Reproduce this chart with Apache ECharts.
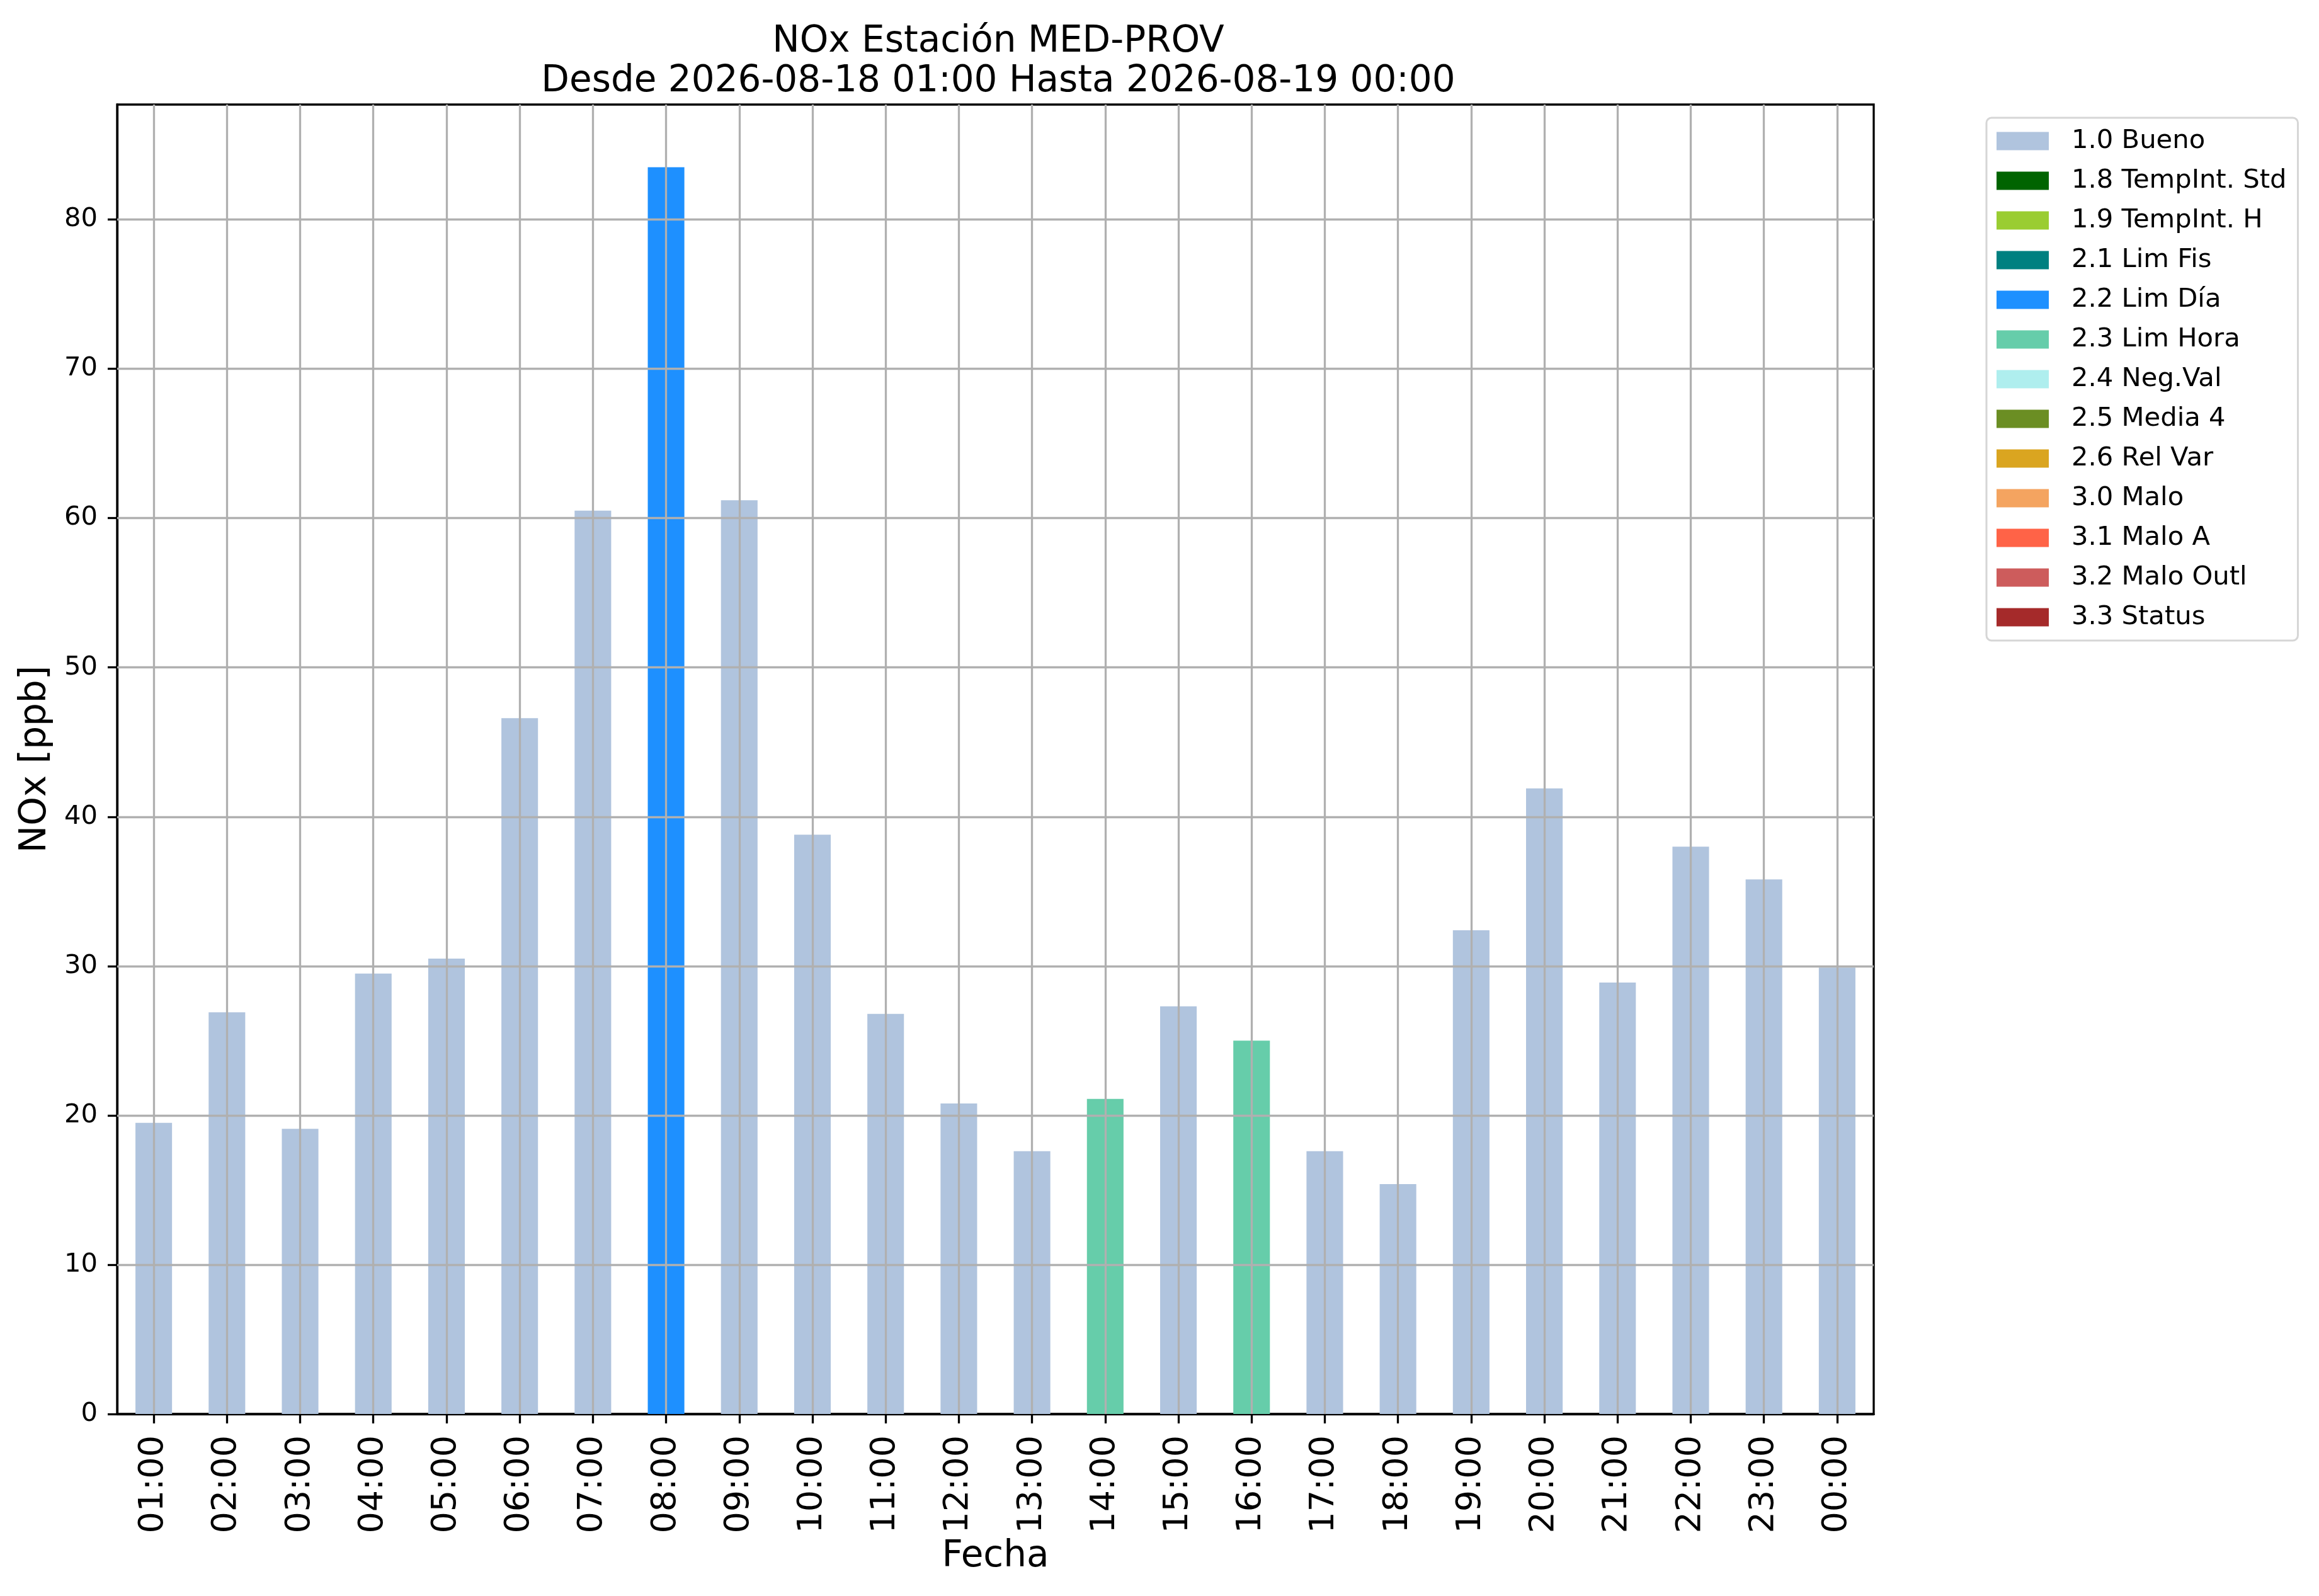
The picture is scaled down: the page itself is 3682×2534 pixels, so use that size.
<!DOCTYPE html>
<html>
<head>
<meta charset="utf-8">
<script src="https://cdn.jsdelivr.net/npm/echarts@6/dist/echarts.min.js"></script>
<style>
  html, body { margin: 0; padding: 0; background: #ffffff; }
  #chart { width: 3682px; height: 2534px; }
</style>
</head>
<body>
<div id="chart"></div>
<script>
// ---- data ----
const hours = ['01:00','02:00','03:00','04:00','05:00','06:00','07:00','08:00','09:00','10:00','11:00','12:00',
               '13:00','14:00','15:00','16:00','17:00','18:00','19:00','20:00','21:00','22:00','23:00','00:00'];
const noxValues = [19.5, 26.9, 19.1, 29.5, 30.5, 46.6, 60.5, 83.5, 61.2, 38.8, 26.8, 20.8,
                   17.6, 21.1, 27.3, 25.0, 17.6, 15.4, 32.4, 41.9, 28.9, 38.0, 35.8, 29.9];
const flagOfHour = ['1.0 Bueno','1.0 Bueno','1.0 Bueno','1.0 Bueno','1.0 Bueno','1.0 Bueno','1.0 Bueno','2.2 Lim Día',
                    '1.0 Bueno','1.0 Bueno','1.0 Bueno','1.0 Bueno','1.0 Bueno','2.3 Lim Hora','1.0 Bueno','2.3 Lim Hora',
                    '1.0 Bueno','1.0 Bueno','1.0 Bueno','1.0 Bueno','1.0 Bueno','1.0 Bueno','1.0 Bueno','1.0 Bueno'];
const flagNames = ['1.0 Bueno','1.8 TempInt. Std','1.9 TempInt. H','2.1 Lim Fis','2.2 Lim Día','2.3 Lim Hora',
                   '2.4 Neg.Val','2.5 Media 4','2.6 Rel Var','3.0 Malo','3.1 Malo A','3.2 Malo Outl','3.3 Status'];
const flagColors = ['#B0C4DE','#006400','#9ACD32','#008080','#1E90FF','#66CDAA',
                    '#AFEEEE','#6B8E23','#DAA520','#F4A460','#FF6347','#CD5C5C','#A52A2A'];
const yTicks = [0, 10, 20, 30, 40, 50, 60, 70, 80];
const yMax = 87.7;
const titleText = 'NOx Estación MED-PROV\nDesde 2026-08-18 01:00 Hasta 2026-08-19 00:00';

// ---- chart ----
const FONT = 'DejaVu Sans';
const chart = echarts.init(document.getElementById('chart'), null, { renderer: 'canvas' });

const barSeries = flagNames.map((name, k) => ({
  name: name,
  type: 'bar',
  stack: 'all',
  barWidth: '50%',
  itemStyle: { color: flagColors[k] },
  emphasis: { disabled: true },
  data: noxValues.map((v, i) => (flagOfHour[i] === name ? v : '-'))
}));

const gridLineData = yTicks.filter(v => v > 0).map(v => ({ yAxis: v }))
  .concat(hours.map(h => ({ xAxis: h })));

const gridSeries = {
  name: '__grid',
  type: 'line',
  data: [],
  silent: true,
  markLine: {
    silent: true,
    symbol: ['none', 'none'],
    label: { show: false },
    animation: false,
    z: 5,
    lineStyle: { color: '#b0b0b0', width: 3.3, type: 'solid' },
    emphasis: { disabled: true },
    data: gridLineData
  }
};

chart.setOption({
  animation: false,
  backgroundColor: '#ffffff',
  textStyle: { fontFamily: FONT },
  title: {
    text: titleText,
    left: 1580,
    top: 30,
    textAlign: 'center',
    textStyle: { fontFamily: FONT, fontSize: 58, fontWeight: 'normal', color: '#000', lineHeight: 63 }
  },
  legend: {
    data: flagNames,
    orient: 'vertical',
    left: 3154,
    top: 187,
    icon: 'rect',
    itemWidth: 83,
    itemHeight: 29,
    itemGap: 21,
    padding: [16, 18, 16, 16],
    borderColor: '#d6d6d6',
    borderWidth: 3,
    borderRadius: 8,
    backgroundColor: '#ffffff',
    selectedMode: false,
    textStyle: { fontFamily: FONT, fontSize: 41.7, color: '#000', padding: [0, 0, 0, 31] }
  },
  grid: {
    left: 186, right: 707, top: 166, bottom: 289,
    show: true, borderColor: '#000', borderWidth: 3.3, backgroundColor: 'transparent',
    containLabel: false
  },
  xAxis: {
    type: 'category',
    data: hours,
    name: 'Fecha',
    nameLocation: 'middle',
    nameGap: 196,
    nameTextStyle: { fontFamily: FONT, fontSize: 58, color: '#000' },
    axisLine: { show: true, lineStyle: { color: '#000', width: 3.3 } },
    axisTick: { show: true, alignWithLabel: true, length: 15, lineStyle: { color: '#000', width: 3.3 } },
    axisLabel: { rotate: 90, margin: 34, interval: 0, fontFamily: FONT, fontSize: 54, color: '#000' },
    splitLine: { show: false }
  },
  yAxis: {
    type: 'value',
    min: 0,
    max: yMax,
    interval: 10,
    name: 'NOx [ppb]',
    nameLocation: 'middle',
    nameRotate: 90,
    nameGap: 100,
    nameTextStyle: { fontFamily: FONT, fontSize: 58, color: '#000' },
    axisLine: { show: true, lineStyle: { color: '#000', width: 3.3 } },
    axisTick: { show: true, length: 15, lineStyle: { color: '#000', width: 3.3 }, customValues: yTicks },
    axisLabel: { margin: 31, fontFamily: FONT, fontSize: 41.7, color: '#000', customValues: yTicks },
    splitLine: { show: false }
  },
  series: barSeries.concat([gridSeries])
});
</script>
</body>
</html>
